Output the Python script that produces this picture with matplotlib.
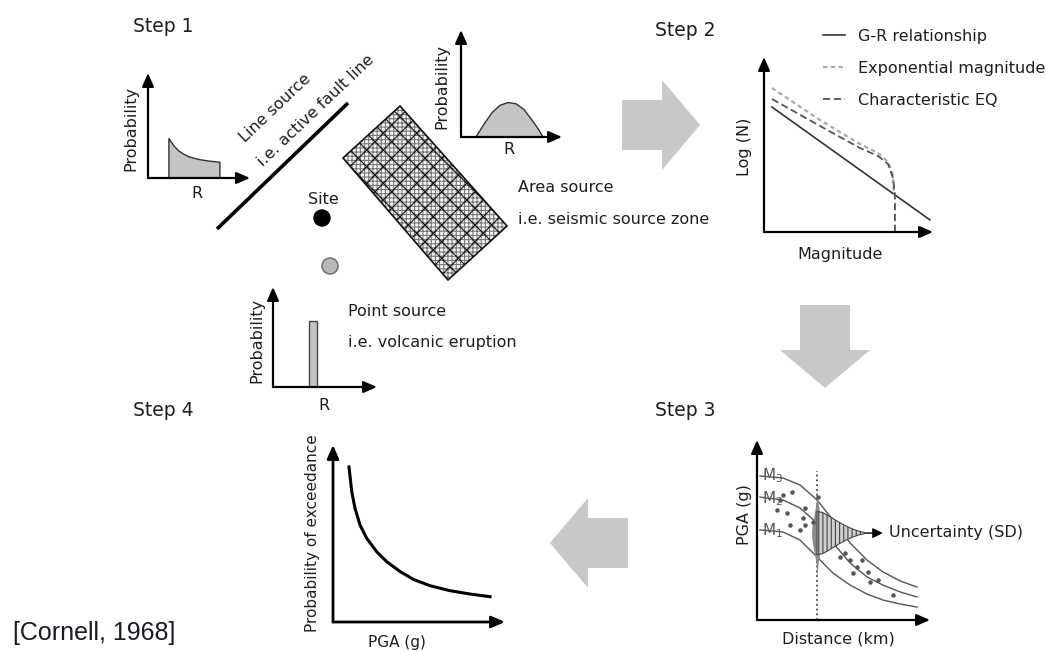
import matplotlib.pyplot as plt
import matplotlib.patches as mpatches

# ─── Canvas ─────────────────────────────────────────────────────────────────────

W, H = 1046, 651
TXT = "#1e1e1e"
ARROW_GRAY = "#c8c8c8"
FILL_GRAY = "#c4c4c4"

plt.rcParams["font.family"] = ["DejaVu Sans"]
plt.rcParams["hatch.linewidth"] = 0.8

# ─── Data (curve shapes, arbitrary 0-10 units) ─────────────────────────────────

# Step 1 - distance PDFs
line_r = [2.0, 2.5, 3.0, 3.5, 4.0, 5.0, 6.0, 7.0]
line_p = [3.8, 3.1, 2.6, 2.3, 2.05, 1.8, 1.65, 1.55]

area_r = [1.4, 2.2, 3.0, 3.8, 4.6, 5.4, 6.2, 7.0, 7.6, 8.1]
area_p = [0.0, 1.2, 2.3, 3.0, 3.27, 3.15, 2.6, 1.6, 0.8, 0.0]

point_r = [3.85]
point_p = [6.6]

# Step 2 - magnitude recurrence
mag_gr = [0.47, 9.82]
logn_gr = [7.14, 0.69]
mag_exp = [0.47, 3.31, 5.68, 6.75, 7.34, 7.63, 7.69]
logn_exp = [8.23, 6.4, 5.03, 4.51, 4.0, 3.26, 2.11]
mag_char = [0.47, 3.31, 5.68, 6.75, 7.34, 7.63, 7.75, 7.75]
logn_char = [7.6, 6.06, 4.8, 4.34, 3.89, 3.09, 2.11, 0.0]

# Step 3 - ground motion prediction
dist = [0.17, 1.5, 2.49, 3.47, 4.39, 5.38, 6.36, 7.28, 8.27, 9.25]
pga_m3 = [8.0, 7.89, 7.5, 6.67, 5.56, 4.28, 3.33, 2.67, 2.17, 1.83]
pga_m2 = [6.83, 6.67, 6.22, 5.39, 4.28, 3.17, 2.39, 1.94, 1.56, 1.28]
pga_m1 = [5.0, 4.89, 4.44, 3.5, 2.61, 1.94, 1.44, 1.11, 0.89, 0.72]
obs_dist = [2.02, 1.16, 1.73, 2.77, 2.66, 1.91, 2.77, 2.49, 3.24, 3.53, 1.33, 1.5,
            4.8, 5.09, 5.38, 5.78, 5.55, 6.42, 6.53, 6.99, 7.86, 6.07]
obs_pga = [7.11, 6.11, 5.94, 6.22, 5.67, 5.28, 5.28, 5.0, 5.44, 6.83, 6.67, 6.94,
           3.5, 3.72, 3.33, 2.94, 2.61, 2.67, 2.11, 2.22, 1.39, 3.33]
site_dist = 3.47
median_pga = 4.83
sd_offset = [0, 0.3, 0.6, 0.9, 1.2, 1.5, 1.8, 2.1, 2.4, 2.9]
sd_half = [1.2, 1.15, 1.0, 0.82, 0.64, 0.48, 0.33, 0.21, 0.11, 0.0]
vert_offset = [0, 0.4, 0.8, 1.2, 1.6, 2.0, 2.4]
vert_half = [0.32, 0.29, 0.22, 0.14, 0.07, 0.03, 0.0]

# Step 4 - hazard curve
pga_levels = [0.93, 1.09, 1.28, 1.57, 1.96, 2.54, 3.12, 3.9, 4.67, 5.64, 6.8, 7.97, 9.13]
poe = [8.76, 7.36, 6.42, 5.48, 4.73, 3.97, 3.41, 2.85, 2.41, 2.05, 1.77, 1.58, 1.43]

# ─── Helpers ───────────────────────────────────────────────────────────────────

fig = plt.figure(figsize=(W / 100, H / 100), dpi=100)
bg = fig.add_axes([0, 0, 1, 1])
bg.set_xlim(0, W)
bg.set_ylim(H, 0)
bg.axis("off")


def label(x, y, s, size=11.5, **kw):
    kw.setdefault("va", "center")
    bg.text(x, y, s, fontsize=size, color=TXT, **kw)


def panel(x0, y0, x1, y1, lw=1.6):
    # x0,y0 = origin pixel, x1 = x-arrow tip, y1 = y-arrow tip
    ax = fig.add_axes([x0 / W, 1 - y0 / H, (x1 - x0) / W, (y0 - y1) / H])
    ax.set_xlim(0, 10)
    ax.set_ylim(0, 10)
    ax.axis("off")
    for tip in [(1, 0), (0, 1)]:
        ax.annotate("", xy=tip, xytext=(0, 0), xycoords="axes fraction",
                    arrowprops=dict(arrowstyle="-|>,head_length=0.8,head_width=0.35",
                                    mutation_scale=10, lw=lw, color="k",
                                    shrinkA=0, shrinkB=0))
    return ax


def big_arrow(x, y, dx, dy):
    bg.add_patch(mpatches.FancyArrow(x, y, dx, dy, width=50, head_width=90,
                                     head_length=38, length_includes_head=True,
                                     color=ARROW_GRAY, lw=0))

# ─── Step 1: seismic sources ───────────────────────────────────────────────────

label(133, 27, "Step 1", size=13.5, ha="left")

ax1 = panel(148, 178, 250, 73)
ax1.fill_between(line_r, 0, line_p, facecolor=FILL_GRAY, edgecolor="#333", lw=1)
label(131, 128, "Probability", rotation=90, ha="center")
label(197, 193, "R", ha="center")

# line source
bg.plot([217, 348], [229, 103], color="k", lw=2.6, solid_capstyle="butt")
label(275, 108, "Line source", rotation=43.5, ha="center", rotation_mode="anchor")
label(316, 111, "i.e. active fault line", rotation=43.5, ha="center", rotation_mode="anchor")

# site + point source
label(323, 200, "Site", ha="center")
bg.add_patch(mpatches.Circle((322, 218), 8, color="k"))
bg.add_patch(mpatches.Circle((330, 266), 8, facecolor="#b8b8b8", edgecolor="#666", lw=1))

# area source
corners = [(400, 106), (507, 226), (448, 280), (343, 158)]
bg.add_patch(mpatches.Polygon(corners, closed=True, facecolor="#f4f4f4",
                              edgecolor="#7a7a7a", hatch="++++", lw=0))
bg.add_patch(mpatches.Polygon(corners, closed=True, facecolor="none",
                              edgecolor="#111", hatch="xx", lw=1.2))

ax_area = panel(461, 137, 562, 30)
ax_area.fill_between(area_r, 0, area_p, facecolor=FILL_GRAY, edgecolor="#333", lw=1)
label(442, 86, "Probability", rotation=90, ha="center")
label(509, 150, "R", ha="center")
label(518, 188, "Area source", ha="left")
label(518, 220, "i.e. seismic source zone", ha="left")

ax_pt = panel(273, 387, 377, 287)
ax_pt.bar(point_r, point_p, width=0.77, color=FILL_GRAY, edgecolor="#444", lw=1)
label(257, 340, "Probability", rotation=90, ha="center")
label(324, 405, "R", ha="center")
label(348, 311, "Point source", ha="left")
label(348, 343, "i.e. volcanic eruption", ha="left")

# ─── Step 2: recurrence ────────────────────────────────────────────────────────

label(655, 30, "Step 2", size=13.5, ha="left")
ax2 = panel(764, 232, 933, 57)
ax2.plot(mag_gr, logn_gr, color="#333", lw=1.2, label="G-R relationship")
ax2.plot(mag_exp, logn_exp, color="#aaaaaa", lw=1.6, ls=(0, (2, 1.5)),
         label="Exponential magnitude")
ax2.plot(mag_char, logn_char, color="#555", lw=1.3, ls=(0, (4, 2)),
         label="Characteristic EQ")
ax2.legend(loc="upper left", bbox_to_anchor=(823 / W, 1 - 29 / H),
           bbox_transform=fig.transFigure, frameon=False, fontsize=11.5,
           handlelength=1.4, handletextpad=0.8, labelspacing=1.05,
           borderpad=0, borderaxespad=0, labelcolor=TXT)
label(745, 147, "Log (N)", rotation=90, ha="center")
label(840, 255, "Magnitude", ha="center")

# ─── Step 3: ground motion ─────────────────────────────────────────────────────

label(655, 410, "Step 3", size=13.5, ha="left")
ax3 = panel(757, 620, 930, 440)
for pga in (pga_m3, pga_m2, pga_m1):
    ax3.plot(dist, pga, color="#555", lw=1)
ax3.scatter(obs_dist, obs_pga, s=5, color="#555", zorder=3)
ax3.axvline(site_dist, ymin=0, ymax=0.83, color="#444", ls=":", lw=1.3)

vy = ([median_pga - o for o in vert_offset[::-1]] +
      [median_pga + o for o in vert_offset[1:]])
vh = vert_half[::-1] + vert_half[1:]
ax3.fill_betweenx(vy, [site_dist - h for h in vh], [site_dist + h for h in vh],
                  color="#8a8a8a", lw=0, zorder=2)
ax3.fill_between([site_dist + o for o in sd_offset],
                 [median_pga - h for h in sd_half],
                 [median_pga + h for h in sd_half],
                 facecolor="#cfcfcf", edgecolor="#444", hatch="||||", lw=0.8, zorder=2)
ax3.annotate("", xy=(site_dist + 3.8, median_pga), xytext=(site_dist + 2.9, median_pga),
             arrowprops=dict(arrowstyle="-|>,head_length=0.6,head_width=0.3",
                             mutation_scale=10, lw=1, color="k",
                             shrinkA=0, shrinkB=0))
for y, s in [(7.78, "3"), (6.5, "2"), (4.72, "1")]:
    ax3.text(0.3, y, r"$\mathregular{M_%s}$" % s, fontsize=11, color="#555",
             va="baseline", ha="left")
label(889, 533, "Uncertainty (SD)", ha="left")
label(744, 515, "PGA (g)", rotation=90, ha="center")
label(838, 639, "Distance (km)", ha="center")

# ─── Step 4: hazard curve ──────────────────────────────────────────────────────

label(133, 410, "Step 4", size=13.5, ha="left")
ax4 = panel(333, 622, 505, 445, lw=2)
ax4.plot(pga_levels, poe, color="k", lw=2.2, solid_joinstyle="round")
label(313, 533, "Probability of exceedance", size=11, rotation=90, ha="center")
label(397, 643, "PGA (g)", size=11, ha="center")

# ─── Flow arrows ───────────────────────────────────────────────────────────────

big_arrow(622, 125, 78, 0)
big_arrow(825, 305, 0, 83)
big_arrow(628, 543, -78, 0)

bg.text(13, 633, "[Cornell, 1968]", fontsize=18, color="#1a1a2a",
        family=["Liberation Sans", "DejaVu Sans"], va="center", ha="left")

plt.savefig("out.png", dpi=100)
